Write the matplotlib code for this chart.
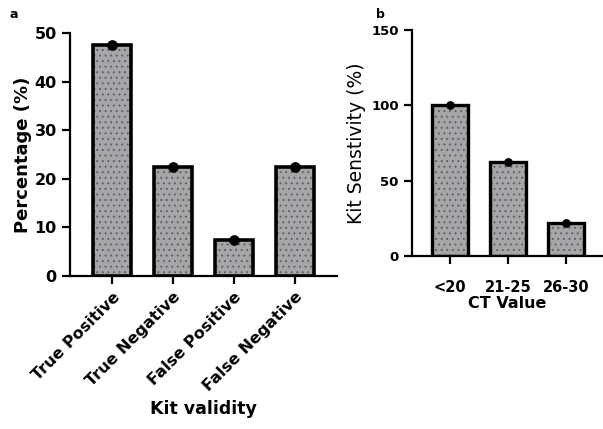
import numpy as np
import matplotlib.pyplot as plt

plt.rcParams['font.family'] = ['DejaVu Sans']
plt.rcParams['font.weight'] = 'bold'
plt.rcParams['hatch.linewidth'] = 0.7

validity_labels = ['True Positive', 'True Negative', 'False Positive', 'False Negative']
validity_values = [47.5, 22.5, 7.5, 22.5]

ct_labels = ['<20', '21-25', '26-30']
ct_values = [100.0, 62.5, 21.9]

bar_face = '#a6a6a8'
dot_color = '#606066'


def draw_bars(ax, values, width, lw, ms):
    x = np.arange(len(values))
    ax.bar(x, values, width=width, color=bar_face, edgecolor=dot_color, hatch='...', linewidth=0, zorder=2)
    ax.bar(x, values, width=width, color='none', edgecolor='black', linewidth=lw, zorder=3)
    ax.scatter(x, values, s=ms, color='black', zorder=4, clip_on=False)
    return x


def style_axes(ax):
    for side in ['top', 'right']:
        ax.spines[side].set_visible(False)
    for side in ['left', 'bottom']:
        ax.spines[side].set_linewidth(1.6)
    ax.tick_params(width=1.6, length=6)


fig = plt.figure(figsize=(6.03, 4.29), dpi=100)

ax1 = fig.add_axes([70 / 603, 1 - 276 / 429, 267 / 603, 243 / 429])
x1 = draw_bars(ax1, validity_values, 0.62, 2.6, 45)
style_axes(ax1)
ax1.tick_params(axis='y', labelsize=11.5)
ax1.set_xlim(-0.69, 3.69)
ax1.set_ylim(0, 50)
ax1.set_yticks([0, 10, 20, 30, 40, 50])
ax1.set_xticks(x1)
ax1.set_xticklabels(validity_labels, rotation=45, ha='right', rotation_mode='anchor', fontsize=11.5)
ax1.set_ylabel('Percentage (%)', fontsize=13, fontweight='bold', labelpad=2)
ax1.set_xlabel('Kit validity', fontsize=12.5, fontweight='bold', labelpad=4)

ax2 = fig.add_axes([412 / 603, 1 - 256 / 429, 190 / 603, 226 / 429])
x2 = draw_bars(ax2, ct_values, 0.62, 2.4, 28)
style_axes(ax2)
ax2.tick_params(axis='y', labelsize=9.5)
ax2.tick_params(axis='x', labelsize=10.5, pad=11)
ax2.set_xlim(-0.65, 2.62)
ax2.set_ylim(0, 150)
ax2.set_yticks([0, 50, 100, 150])
ax2.set_xticks(x2)
ax2.set_xticklabels(ct_labels)
ax2.set_ylabel('Kit Senstivity (%)', fontsize=13.5, fontweight='normal', labelpad=4)
ax2.set_xlabel('CT Value', fontsize=11.5, fontweight='bold', labelpad=1)

fig.text(10 / 603, 1 - 14 / 429, 'a', fontsize=9, fontweight='bold', va='center')
fig.text(376 / 603, 1 - 14 / 429, 'b', fontsize=9, fontweight='bold', va='center')

fig.savefig('out.png', dpi=100)
